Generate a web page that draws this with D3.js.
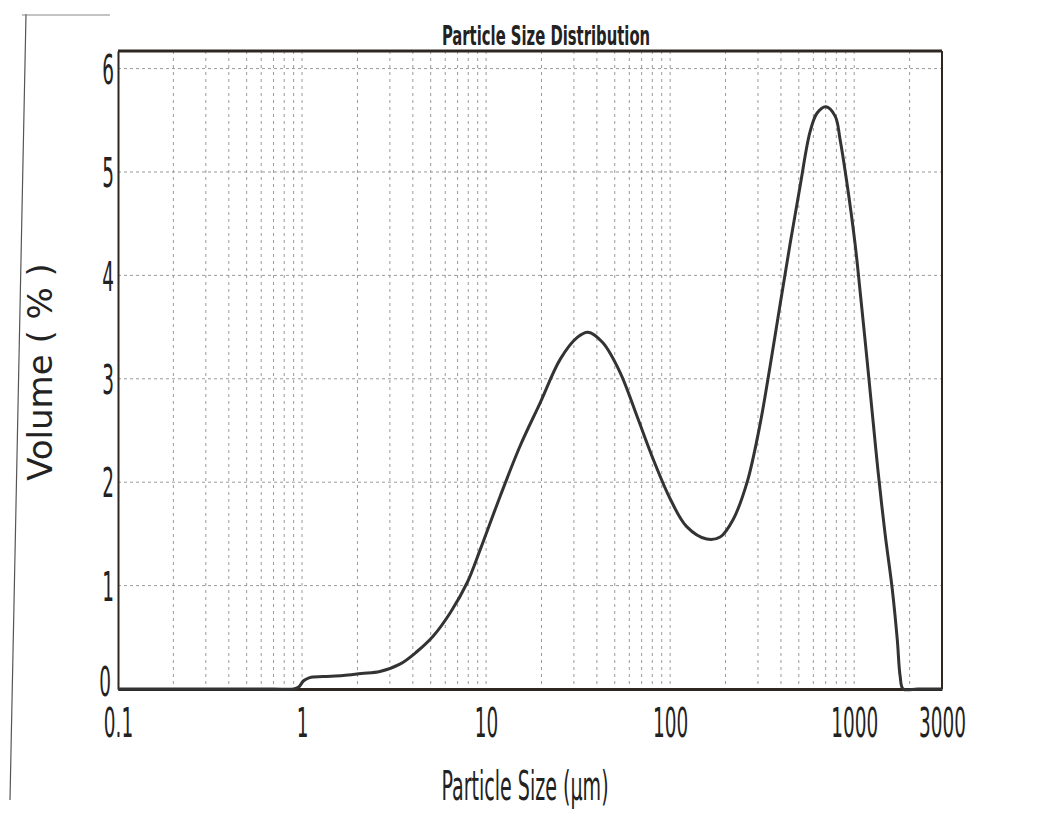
<!DOCTYPE html>
<html>
<head>
<meta charset="utf-8">
<script src="https://cdn.jsdelivr.net/npm/d3@7"></script>
<style>
  body { margin: 0; background: #fff; }
  svg { display: block; }
</style>
</head>
<body>
<div id="chart"></div>
<script>
// particle size (um) and volume (%)
let sizes  = [0.1, 0.2, 0.4, 0.7, 0.9, 0.96, 1.02, 1.1, 1.3, 1.67, 2.1, 2.65, 3.4, 4.2, 5.15, 6.4, 7.9, 9.3, 11.9, 15.3, 19.7,
              25.3, 31.3, 35.8, 43, 53.5, 66, 81, 100, 123, 158, 187, 220, 262, 308, 349, 396, 449, 509, 576, 629,
              702, 788, 839, 912, 1012, 1079, 1172, 1268, 1349, 1472, 1609, 1714, 1778, 1845, 2200, 2600, 3000];
let volume = [0, 0, 0, 0, 0, 0.02, 0.08, 0.11, 0.12, 0.13, 0.15, 0.17, 0.24, 0.36, 0.51, 0.74, 1.03, 1.35, 1.86, 2.35, 2.77,
              3.19, 3.40, 3.45, 3.35, 3.06, 2.64, 2.22, 1.84, 1.57, 1.45, 1.47, 1.64, 2.0, 2.56, 3.12, 3.72, 4.31, 4.87, 5.39, 5.57,
              5.63, 5.54, 5.31, 4.90, 4.30, 3.83, 3.2, 2.58, 2.10, 1.50, 0.97, 0.48, 0.12, 0, 0, 0, 0];

let xTicks = [0.1, 1, 10, 100, 1000, 3000];
let yTicks = [0, 1, 2, 3, 4, 5, 6];

let svgWidth = 1042;
let svgHeight = 814;
let plotLeft = 118, plotRight = 942, plotTop = 51, plotBottom = 689;

let ink = "#2e2620";
let narrow = "'DejaVu Sans Condensed', 'DejaVu Sans', sans-serif";
let squeeze = 0.5;   // the scan's lettering is tall and narrow

//scales
let xScale = d3.scaleLog().domain([0.1, 3000]).range([plotLeft, plotRight]);
let yScale = d3.scaleLinear().domain([0, 6.17]).range([plotBottom, plotTop]);

let svg = d3.select("#chart")
  .append("svg")
  .attr("width", svgWidth)
  .attr("height", svgHeight);

//scan edge lines
svg.append("line")
  .attr("x1", 26).attr("y1", 14).attr("x2", 10).attr("y2", 800)
  .attr("stroke", "#555").attr("stroke-width", 1.2);
svg.append("line")
  .attr("x1", 22).attr("y1", 15).attr("x2", 110).attr("y2", 15)
  .attr("stroke", "#888").attr("stroke-width", 1);

//minor log gridlines
let gridX = [];
for (let p = -1; p <= 3; p++) {
  for (let m = 1; m <= 9; m++) {
    let v = m * Math.pow(10, p);
    if (v > 0.1 && v <= 3000) gridX.push(v);
  }
}

svg.append("g")
  .selectAll("line")
  .data(gridX)
  .join("line")
  .attr("x1", d => xScale(d))
  .attr("x2", d => xScale(d))
  .attr("y1", plotTop)
  .attr("y2", plotBottom)
  .attr("stroke", "#9a9a9a")
  .attr("stroke-width", 1)
  .attr("stroke-dasharray", "3,4");

svg.append("g")
  .selectAll("line")
  .data(yTicks.filter(d => d > 0))
  .join("line")
  .attr("x1", plotLeft)
  .attr("x2", plotRight)
  .attr("y1", d => yScale(d))
  .attr("y2", d => yScale(d))
  .attr("stroke", "#9a9a9a")
  .attr("stroke-width", 1)
  .attr("stroke-dasharray", "3,3");

//frame
svg.append("line")
  .attr("x1", plotLeft).attr("x2", plotRight).attr("y1", plotTop).attr("y2", plotTop)
  .attr("stroke", ink).attr("stroke-width", 3);
svg.append("line")
  .attr("x1", plotRight).attr("x2", plotRight).attr("y1", plotTop).attr("y2", plotBottom)
  .attr("stroke", ink).attr("stroke-width", 2);

//axes
let xAxis = d3.axisBottom(xScale)
  .tickValues(xTicks)
  .tickFormat(d => String(d))
  .tickSize(0)
  .tickPadding(19);

let gx = svg.append("g")
  .attr("transform", `translate(0,${plotBottom})`)
  .call(xAxis);
gx.select(".domain").attr("stroke", ink).attr("stroke-width", 3);
gx.selectAll("text")
  .attr("fill", "#222")
  .attr("transform", `scale(${squeeze},1)`)
  .style("font-family", narrow)
  .style("font-size", "41px");

let yAxis = d3.axisLeft(yScale)
  .tickValues(yTicks)
  .tickFormat(d3.format("d"))
  .tickSize(0)
  .tickPadding(0);

let gy = svg.append("g")
  .attr("transform", `translate(${plotLeft},0)`)
  .call(yAxis);
gy.select(".domain").attr("stroke", ink).attr("stroke-width", 2);
gy.selectAll("text")
  .attr("fill", "#222")
  .attr("x", -8)
  .attr("dy", "0.36em")
  .attr("transform", `scale(${squeeze},1)`)
  .style("font-family", narrow)
  .style("font-size", "41px");
gy.selectAll(".tick").filter(d => d === 0).select("text")
  .attr("x", -14).attr("dy", "0.17em");

//curve
let line = d3.line()
  .x((d, i) => xScale(sizes[i]))
  .y(d => yScale(d))
  .curve(d3.curveCatmullRom.alpha(0.5));

svg.append("path")
  .datum(volume)
  .attr("d", line)
  .attr("fill", "none")
  .attr("stroke", "#333")
  .attr("stroke-width", 3)
  .attr("stroke-linejoin", "round");

//titles
svg.append("text")
  .attr("transform", "translate(546,45) scale(0.61,1)")
  .attr("text-anchor", "middle")
  .attr("fill", "#222")
  .style("font-family", narrow)
  .style("font-weight", "bold")
  .style("font-size", "27px")
  .text("Particle Size Distribution");

svg.append("text")
  .attr("transform", "translate(525,800) scale(0.53,1)")
  .attr("text-anchor", "middle")
  .attr("fill", "#222")
  .style("font-family", narrow)
  .style("font-size", "40px")
  .text("Particle Size (µm)");

svg.append("text")
  .attr("transform", "translate(52,372) rotate(-90)")
  .attr("text-anchor", "middle")
  .attr("fill", "#222")
  .style("font-family", "'DejaVu Sans', sans-serif")
  .style("font-size", "34px")
  .text("Volume ( % )");
</script>
</body>
</html>
